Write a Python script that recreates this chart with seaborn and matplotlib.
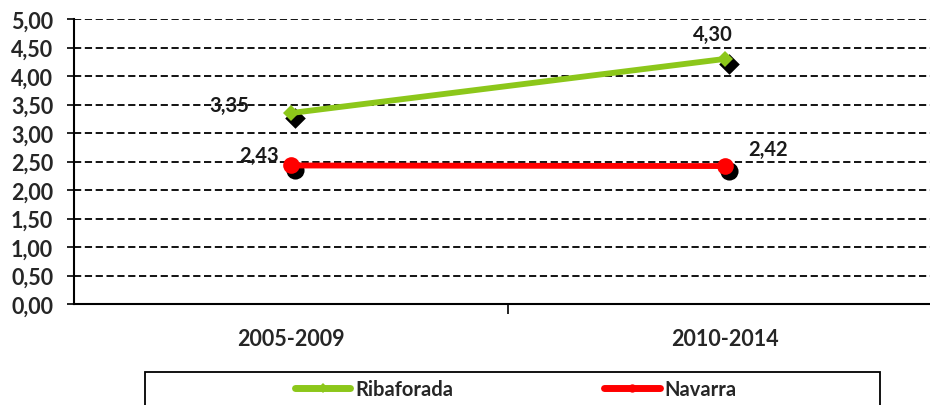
import matplotlib
matplotlib.use("Agg")
import matplotlib.pyplot as plt
import matplotlib.transforms as mtransforms
from matplotlib.ticker import MultipleLocator, FixedLocator
from matplotlib.lines import Line2D
from matplotlib.patches import Rectangle
import seaborn as sns
import pandas as pd

periods = ["2005-2009", "2010-2014"]
ribaforada = [3.35, 4.30]
navarra = [2.43, 2.42]
series_names = ["Ribaforada", "Navarra"]
colors = {"Ribaforada": "#8CC71A", "Navarra": "#FF0000"}
markers = {"Ribaforada": "D", "Navarra": "o"}

df = pd.DataFrame({
    "period": periods * 2,
    "x": [0, 1] * 2,
    "value": ribaforada + navarra,
    "series": [series_names[0]] * 2 + [series_names[1]] * 2,
})

sns.set_style("white")
FAM = ["Lato", "DejaVu Sans"]
plt.rcParams["font.family"] = FAM
plt.rcParams["font.weight"] = "bold"

fig = plt.figure(figsize=(9.30, 4.06), dpi=100)
ax = fig.add_axes([74 / 930, 1 - 305 / 406, 1 - 74 / 930, (305 - 20) / 406])

ax.set_ylim(0, 5)
ax.set_xlim(-0.5, 1.472)
ax.yaxis.set_major_locator(MultipleLocator(0.5))
ax.grid(axis="y", color="black", linestyle=(0, (4, 2)), linewidth=1.3)
ax.set_axisbelow(True)

# shadows
for name in series_names:
    sub = df[df["series"] == name]
    sns.scatterplot(data=sub, x="x", y="value", ax=ax, color="black",
                    marker=markers[name], s=170 if name == "Navarra" else 110,
                    linewidth=0, legend=False, zorder=3)
    coll = ax.collections[-1]
    coll.set_offset_transform(mtransforms.offset_copy(ax.transData, fig=fig, x=4, y=-5, units="dots"))

# lines
sns.lineplot(data=df, x="x", y="value", hue="series", palette=colors,
             style="series", markers=markers, dashes=False, ax=ax,
             linewidth=4.2, markersize=12, markeredgewidth=0, legend=False, zorder=4)
for line in ax.lines:
    line.set_zorder(4)
    if line.get_marker() == "D":
        line.set_markersize(8)

label_font = dict(fontsize=14.5, fontweight="bold", color="#1a1a1a", family=FAM)
ax.annotate("3,35", (0, ribaforada[0]), xytext=(-62, 8), textcoords="offset pixels", ha="center", va="center", **label_font)
ax.annotate("4,30", (1, ribaforada[1]), xytext=(-12, 25), textcoords="offset pixels", ha="center", va="center", **label_font)
ax.annotate("2,43", (0, navarra[0]), xytext=(-32, 11), textcoords="offset pixels", ha="center", va="center", **label_font)
ax.annotate("2,42", (1, navarra[1]), xytext=(43, 17), textcoords="offset pixels", ha="center", va="center", **label_font)

for s in ["top", "right"]:
    ax.spines[s].set_visible(False)
for s in ["left", "bottom"]:
    ax.spines[s].set_color("black")
    ax.spines[s].set_linewidth(1.5)

ax.set_yticks([i * 0.5 for i in range(11)])
ax.set_yticklabels([f"{i * 0.5:.2f}".replace(".", ",") for i in range(11)],
                   fontsize=15.5, fontweight="bold")
ax.tick_params(axis="y", length=5, width=1.2, color="black", pad=10, left=True)
ax.set_xticks([0, 1])
ax.set_xticklabels(periods, fontsize=15.5, fontweight="bold")
ax.tick_params(axis="x", which="major", length=0, pad=17)
ax.xaxis.set_minor_locator(FixedLocator([0.5]))
ax.tick_params(axis="x", which="minor", length=7, width=1.2, color="black", bottom=True)
ax.set_xlabel("")
ax.set_ylabel("")

# legend frame (extends past the bottom edge like the reference)
fig.patches.append(Rectangle((145 / 930, 1 - 420 / 406), (880 - 145) / 930, 47 / 406,
                             transform=fig.transFigure, facecolor="white",
                             edgecolor="black", linewidth=1.3, zorder=0))
handles = [Line2D([], [], color=colors[n], linewidth=5, marker=markers[n],
                  markersize=5 if n == "Ribaforada" else 6, markeredgewidth=0)
           for n in series_names]
leg = fig.legend(handles, series_names, loc="center left",
                 bbox_to_anchor=(295 / 930, 1 - 390 / 406),
                 ncol=2, frameon=False, borderpad=0, borderaxespad=0,
                 handlelength=2.75, handletextpad=0.25, columnspacing=7.5,
                 prop=dict(size=14.5, weight="bold", family=FAM))

fig.savefig("out.png", dpi=100)
